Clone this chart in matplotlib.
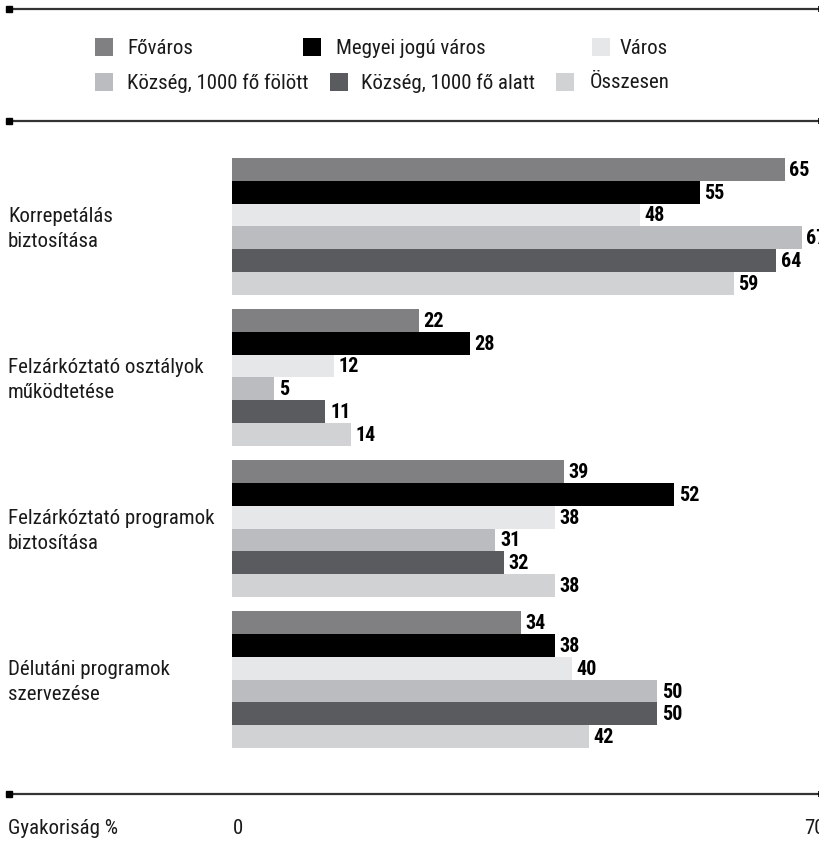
import matplotlib
matplotlib.use('Agg')
import matplotlib.pyplot as plt
from matplotlib import font_manager
from matplotlib.lines import Line2D
from matplotlib.patches import Rectangle
from matplotlib.transforms import blended_transform_factory

# pick a condensed face if one is installed, else a narrow-ish sans
installed = {f.name for f in font_manager.fontManager.ttflist}
narrow = [n for n in ['Liberation Sans Narrow', 'DejaVu Sans Condensed',
                      'Roboto Condensed', 'Open Sans Condensed',
                      'Noto Sans Condensed'] if n in installed]
if narrow:
    family = narrow[0]
    fs_txt, fs_val = 15, 14.5
else:
    family = 'Roboto'
    fs_txt, fs_val = 13, 12.5
plt.rcParams['font.family'] = [family, 'DejaVu Sans']

categories = ['Korrepetálás\nbiztosítása',
              'Felzárkóztató osztályok\nműködtetése',
              'Felzárkóztató programok\nbiztosítása',
              'Délutáni programok\nszervezése']
series = ['Főváros', 'Megyei jogú város', 'Város',
          'Község, 1000 fő fölött', 'Község, 1000 fő alatt', 'Összesen']
colors = ['#808083', '#000000', '#e6e7e9', '#bbbcbf', '#5a5b5e', '#d1d2d4']

fovaros = [65, 22, 39, 34]
megyei = [55, 28, 52, 38]
varos = [48, 12, 38, 40]
kozseg_felett = [67, 5, 31, 50]
kozseg_alatt = [64, 11, 32, 50]
osszesen = [59, 14, 38, 42]
values = [fovaros, megyei, varos, kozseg_felett, kozseg_alatt, osszesen]

W, H = 820, 842
fig = plt.figure(figsize=(W / 100, H / 100), dpi=100)

def fx(px):
    return px / W

def fy(py):
    return 1 - py / H

# bars
group_step = 6.64
ax = fig.add_axes([fx(232), fy(748), fx(588), (748 - 158) / H])
for i in range(len(categories)):
    for j in range(len(series)):
        y = i * group_step + j
        v = values[j][i]
        ax.barh(y, v, height=1.0, color=colors[j], linewidth=0)
        ax.text(v + 0.55, y + 0.04, str(v), va='center', ha='left',
                fontsize=fs_val, fontweight='bold', clip_on=False)
ax.set_xlim(0, 588 / 8.5)
ax.set_ylim(3 * group_step + 5.5, -0.5)
ax.axis('off')

# category labels
tr = blended_transform_factory(fig.transFigure, ax.transData)
for i, cat in enumerate(categories):
    ax.text(fx(8), i * group_step + 2.6, cat, transform=tr, ha='left',
            va='center', fontsize=fs_txt, linespacing=1.4, color='#1a1a1a')

# horizontal rules
for py in [9, 121, 794]:
    fig.add_artist(Line2D([fx(9), fx(819)], [fy(py), fy(py)],
                          color='#333333', lw=1.6))
    fig.add_artist(Line2D([fx(9)], [fy(py)], marker='s', markersize=4,
                          color='#000000', lw=0))
    fig.add_artist(Line2D([fx(819)], [fy(py)], marker='|', markersize=5,
                          color='#000000', lw=0, markeredgewidth=1.2))

# legend
leg_pos = [(95, 127, 47), (303, 336, 47), (592, 620, 47),
           (95, 127, 82), (330, 361, 82), (556, 590, 82)]
for (sx, tx, cy), name, c in zip(leg_pos, series, colors):
    fig.add_artist(Rectangle((fx(sx), fy(cy + 9)), fx(18), 18 / H,
                             transform=fig.transFigure, color=c, lw=0))
    fig.text(fx(tx), fy(cy + 1), name, ha='left', va='center',
             fontsize=fs_txt, color='#1a1a1a')

# axis labels
fig.text(fx(8), fy(829), 'Gyakoriság %', ha='left', va='center',
         fontsize=fs_txt, color='#1a1a1a')
fig.text(fx(233), fy(829), '0', ha='left', va='center', fontsize=fs_txt,
         color='#1a1a1a')
fig.text(fx(804), fy(829), '70', ha='left', va='center', fontsize=fs_txt,
         color='#1a1a1a')

fig.savefig('out.png', dpi=100)
